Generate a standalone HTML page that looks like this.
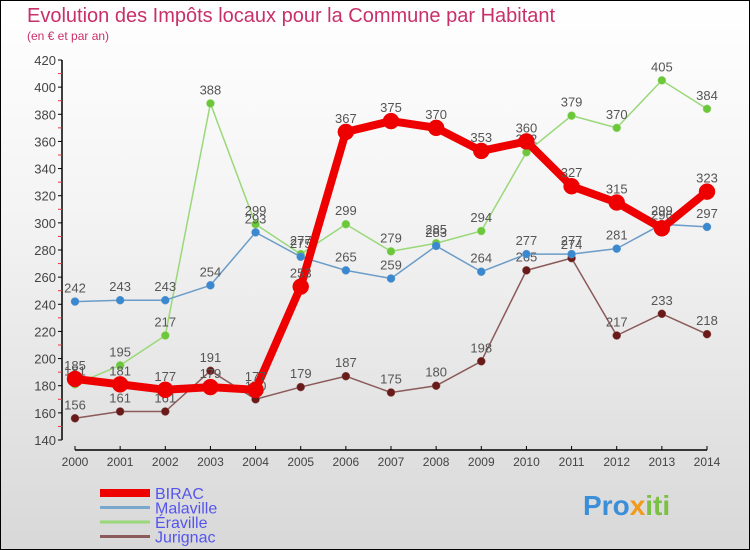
<!DOCTYPE html>
<html><head><meta charset="utf-8"><style>
body{margin:0;width:750px;height:550px;overflow:hidden;font-family:"Liberation Sans",sans-serif}
#wrap{position:absolute;left:0;top:0;width:748px;height:548px;border:1px solid #000;background:linear-gradient(#fff 0%,#f3f3f3 40%,#d8d8d8 100%)}
</style></head><body>
<div id="wrap">
<svg id="chart" width="750" height="550" style="position:absolute;left:-1px;top:-1px">
<text x="27" y="22" font-size="20" fill="#c8306a">Evolution des Impôts locaux pour la Commune par Habitant</text>
<text x="27" y="40" font-size="12" fill="#c8306a">(en € et par an)</text>
<g id="axes"></g><g id="series"></g><g id="legend"></g>
<text x="583" y="515" font-size="28" font-weight="bold" fill="#3a8fd8">Pro<tspan fill="#f29a1a">x</tspan><tspan fill="#7ac143">iti</tspan></text>
</svg></div>
<script>
const years=[2000,2001,2002,2003,2004,2005,2006,2007,2008,2009,2010,2011,2012,2013,2014];
const yTicks=[140,160,180,200,220,240,260,280,300,320,340,360,380,400,420];
const birac=[185,181,177,179,177,253,367,375,370,353,360,327,315,296,323];
const malaville=[242,243,243,254,293,275,265,259,283,264,277,277,281,299,297];
const eraville=[181,195,217,388,299,277,299,279,285,294,352,379,370,405,384];
const jurignac=[156,161,161,191,170,179,187,175,180,198,265,274,217,233,218];
const NS="http://www.w3.org/2000/svg";
const X=i=>75+i*(707-75)/14, Y=v=>440-(v-140)*(380/280);
function mk(t,a,p){const e=document.createElementNS(NS,t);for(const k in a)e.setAttribute(k,a[k]);p.appendChild(e);return e;}
const ax=document.getElementById('axes');
let e=mk('line',{x1:62,y1:60,x2:62,y2:440,stroke:'#000','stroke-width':1.5},ax);


e=mk('line',{x1:75,y1:450,x2:707,y2:450,stroke:'#000','stroke-width':1.5},ax);


yTicks.forEach((v,i)=>{
 mk('line',{x1:58,y1:Y(v),x2:62,y2:Y(v),stroke:'#000'},ax);
 if(i<yTicks.length-1)mk('line',{x1:58,y1:Y(v+10),x2:62,y2:Y(v+10),stroke:'#e33'},ax);
 const t=mk('text',{x:56,y:Y(v)+5,'font-size':13,fill:'#444','text-anchor':'end'},ax);t.textContent=v;
 
 
});
years.forEach((y,i)=>{
 mk('line',{x1:X(i),y1:446,x2:X(i),y2:450,stroke:'#000'},ax);
 const t=mk('text',{x:X(i),y:466,'font-size':12,fill:'#444','text-anchor':'middle'},ax);t.textContent=y;
 
 
});
const sg=document.getElementById('series');
function draw(data,name,color,dot,w,r){
 const g=mk('g',{},sg);
 
 
 mk('polyline',{points:data.map((v,i)=>X(i)+','+Y(v)).join(' '),fill:'none',stroke:color,'stroke-width':w,'stroke-linejoin':'round'},g);
 data.forEach((v,i)=>{
  const c=mk('circle',{cx:X(i),cy:Y(v),r:r,fill:dot,stroke:color,'stroke-width':0.5},g);
  
  
  const t=mk('text',{x:X(i),y:Y(v)-9,'font-size':13,fill:'#555','text-anchor':'middle'},g);t.textContent=v;
  
  
 });
}
draw(jurignac,'jurignac','#8b5a5a','#6b1a1a',1.5,4);
draw(eraville,'eraville','#9ad87a','#6cc83a',1.5,4);
draw(malaville,'malaville','#6a9cc8','#3a88d0',1.5,4);
draw(birac,'birac','#ee0000','#ee0000',8,8);
const lg=document.getElementById('legend');
[['BIRAC','#ee0000',8],['Malaville','#7aa8cc',3],['Eraville','#9ad87a',3],['Jurignac','#8b5a5a',3]].forEach((s,i)=>{
 const y=493+i*14.5;
 const g=mk('g',{},lg);
 
 
 mk('line',{x1:100,y1:y,x2:150,y2:y,stroke:s[1],'stroke-width':s[2]},g);
 const t=mk('text',{x:155,y:y+6,'font-size':16,fill:'#5555ee'},g);t.textContent=s[0]==='Eraville'?'Éraville':s[0];
});
</script>
</body></html>
